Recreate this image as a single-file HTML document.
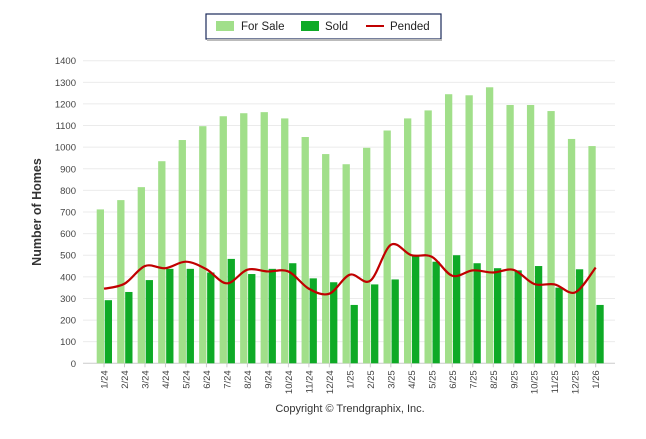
<!DOCTYPE html>
<html><head><meta charset="utf-8"><style>
body{margin:0;background:#fff;font-family:"Liberation Sans",sans-serif}
</style></head><body>
<svg id="c" width="646" height="434" xmlns="http://www.w3.org/2000/svg" font-family="Liberation Sans, sans-serif"></svg>
<script>
const categories=["1/24","2/24","3/24","4/24","5/24","6/24","7/24","8/24","9/24","10/24","11/24","12/24","1/25","2/25","3/25","4/25","5/25","6/25","7/25","8/25","9/25","10/25","11/25","12/25","1/26"];
const forSale=[712,755,815,935,1033,1097,1143,1157,1162,1133,1047,968,921,997,1077,1133,1170,1245,1240,1277,1195,1195,1167,1038,1005];
const sold=[292,330,385,437,437,420,483,413,437,463,393,375,270,365,388,500,470,500,463,440,430,450,350,435,270];
const pended=[345,368,450,440,470,435,370,433,425,425,345,322,410,382,548,500,493,405,430,420,432,367,365,328,443];
const yTicks=[0,100,200,300,400,500,600,700,800,900,1000,1100,1200,1300,1400];
const svg=document.getElementById('c');const NS="http://www.w3.org/2000/svg";
function el(t,a,txt){const e=document.createElementNS(NS,t);for(const k in a)e.setAttribute(k,a[k]);if(txt!=null)e.textContent=txt;svg.appendChild(e);return e;}
const y0=363.3,y1=60.7,yMax=1400;
const Y=v=>y0-(v/yMax)*(y0-y1);
const X=i=>104+i*(595.7-104)/(categories.length-1);
yTicks.forEach(v=>{
 const g=el('line',{x1:83,x2:615,y1:Y(v),y2:Y(v),stroke:v===0?'#ccc':'#ebebeb','stroke-width':1});
 
 const t=el('text',{x:76,y:Y(v)+3.5,'text-anchor':'end','font-size':9.5,fill:'#444'},v);
 
});
categories.forEach((c,i)=>{
 const a=el('rect',{x:X(i)-7.3,y:Y(forSale[i]),width:7.3,height:y0-Y(forSale[i]),fill:'#a1df8a'});
 
 const b=el('rect',{x:X(i)+0.7,y:Y(sold[i]),width:7.3,height:y0-Y(sold[i]),fill:'#0eaa26'});
 
 const tk=el('line',{x1:X(i),x2:X(i),y1:y0,y2:y0+4,stroke:'#ccc'});
 
 const t=el('text',{transform:`translate(${X(i)+3.5},${y0+7}) rotate(-90)`,'text-anchor':'end','font-size':9.5,fill:'#444'},c);
 
});
const pts=pended.map((v,i)=>[X(i),Y(v)]);
let d=`M${pts[0][0]},${pts[0][1]}`;
for(let i=0;i<pts.length-1;i++){const p0=pts[Math.max(0,i-1)],p1=pts[i],p2=pts[i+1],p3=pts[Math.min(pts.length-1,i+2)];const k=1/6;
 d+=` C${p1[0]+(p2[0]-p0[0])*k},${p1[1]+(p2[1]-p0[1])*k} ${p2[0]-(p3[0]-p1[0])*k},${p2[1]-(p3[1]-p1[1])*k} ${p2[0]},${p2[1]}`;}
const ln=el('path',{d:d,fill:'none',stroke:'#c00000','stroke-width':2.2});

const yt=el('text',{transform:'translate(41,212) rotate(-90)','text-anchor':'middle','font-size':12.5,'font-weight':'bold',fill:'#333'},'Number of Homes');

const cp=el('text',{x:350,y:412,'text-anchor':'middle','font-size':11,fill:'#333'},'Copyright © Trendgraphix, Inc.');

const lb=el('rect',{x:206,y:14,width:235,height:25,fill:'#fff',stroke:'#1a2a5a','stroke-width':1.2});

el('rect',{x:207,y:39,width:235,height:2,fill:'#bbb'});
const l1=el('rect',{x:216,y:21,width:18,height:10,fill:'#a1df8a'});
const t1=el('text',{x:241,y:30,'font-size':11.5,fill:'#222'},'For Sale');
const l2=el('rect',{x:301,y:21,width:18,height:10,fill:'#0eaa26'});
const t2=el('text',{x:325,y:30,'font-size':11.5,fill:'#222'},'Sold');
const l3=el('line',{x1:366,x2:384,y1:26,y2:26,stroke:'#c00000','stroke-width':2});
const t3=el('text',{x:390,y:30,'font-size':11.5,fill:'#222'},'Pended');
</script>
</body></html>
